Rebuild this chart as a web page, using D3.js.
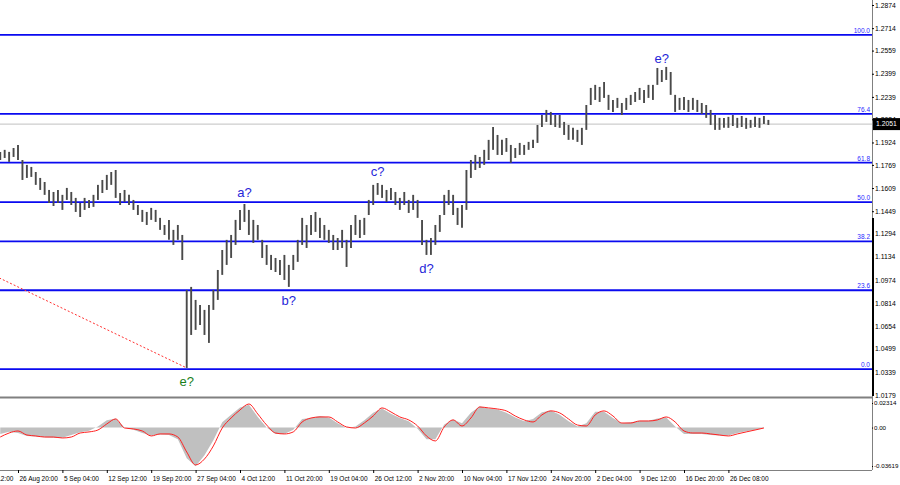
<!DOCTYPE html>
<html><head><meta charset="utf-8">
<script src="https://cdn.jsdelivr.net/npm/d3@7"></script>
<style>body{margin:0;background:#fff}svg{display:block}text{font-family:"Liberation Sans",Arial,sans-serif}</style>
</head><body><svg id="c" width="900" height="485"></svg>
<script>
// ---- price samples (each sample ~ 3 H4 bars), GBP/USD ----
const highs=[1.1859,1.1873,1.1859,1.1886,1.1907,1.1803,1.1769,1.1755,1.1720,1.1679,
1.1651,1.1596,1.1582,1.1596,1.1562,1.1610,1.1582,1.1541,1.1506,1.1541,
1.1527,1.1562,1.1631,1.1665,1.1700,1.1720,1.1734,1.1575,1.1596,1.1562,
1.1527,1.1492,1.1458,1.1444,1.1472,1.1458,1.1403,1.1354,1.1389,1.1320,
1.1354,1.1285,1.0905,1.0926,1.0836,1.0801,1.0767,1.0801,1.0905,1.1043,
1.1181,1.1251,1.1285,1.1389,1.1458,1.1499,1.1458,1.1389,1.1354,1.1251,
1.1216,1.1147,1.1126,1.1112,1.1147,1.1078,1.1147,1.1251,1.1403,1.1354,
1.1423,1.1444,1.1403,1.1354,1.1320,1.1285,1.1264,1.1320,1.1251,1.1354,
1.1423,1.1389,1.1403,1.1527,1.1631,1.1644,1.1631,1.1596,1.1610,1.1582,
1.1541,1.1582,1.1527,1.1562,1.1527,1.1389,1.1251,1.1264,1.1354,1.1423,
1.1562,1.1596,1.1562,1.1472,1.1492,1.1734,1.1803,1.1838,1.1824,1.1873,
1.1942,1.2031,1.1976,1.1942,1.1955,1.1907,1.1886,1.1921,1.1907,1.1928,
1.1942,1.2045,1.2114,1.2149,1.2135,1.2114,1.2114,1.2066,1.2045,1.2025,
1.2011,1.2025,1.2183,1.2301,1.2322,1.2308,1.2342,1.2253,1.2218,1.2232,
1.2197,1.2232,1.2253,1.2273,1.2301,1.2287,1.2322,1.2322,1.2439,1.2425,
1.2446,1.2411,1.2253,1.2232,1.2239,1.2218,1.2232,1.2218,1.2197,1.2183,
1.2149,1.2114,1.2094,1.2094,1.2101,1.2114,1.2094,1.2107,1.2094,1.2080,
1.2101,1.2094,1.2107,1.2080];
const lows=[1.1803,1.1817,1.1790,1.1824,1.1803,1.1665,1.1679,1.1686,1.1631,1.1596,
1.1562,1.1506,1.1485,1.1506,1.1458,1.1527,1.1492,1.1444,1.1409,1.1458,
1.1472,1.1479,1.1527,1.1575,1.1596,1.1631,1.1541,1.1492,1.1513,1.1492,
1.1458,1.1423,1.1375,1.1354,1.1389,1.1375,1.1320,1.1285,1.1251,1.1216,
1.1251,1.1112,1.0366,1.0594,1.0629,1.0663,1.0594,1.0539,1.0767,1.0836,
1.1009,1.1078,1.1126,1.1216,1.1320,1.1375,1.1285,1.1230,1.1251,1.1126,
1.1078,1.1043,1.1029,1.1009,1.0974,1.0926,1.1043,1.1099,1.1216,1.1195,
1.1285,1.1306,1.1264,1.1251,1.1230,1.1181,1.1181,1.1195,1.1064,1.1195,
1.1285,1.1264,1.1285,1.1423,1.1492,1.1562,1.1541,1.1513,1.1527,1.1492,
1.1458,1.1492,1.1437,1.1458,1.1403,1.1216,1.1147,1.1147,1.1216,1.1306,
1.1423,1.1492,1.1423,1.1354,1.1334,1.1458,1.1679,1.1734,1.1748,1.1769,
1.1803,1.1873,1.1838,1.1838,1.1859,1.1783,1.1817,1.1838,1.1838,1.1873,
1.1886,1.1921,1.2031,1.2066,1.2045,1.2031,1.2025,1.1976,1.1942,1.1942,
1.1928,1.1907,1.2011,1.2183,1.2218,1.2204,1.2232,1.2149,1.2135,1.2163,
1.2114,1.2149,1.2183,1.2204,1.2218,1.2197,1.2232,1.2218,1.2322,1.2342,
1.2356,1.2253,1.2135,1.2149,1.2149,1.2135,1.2149,1.2135,1.2121,1.2094,
1.2045,1.2011,1.2011,1.2025,1.2025,1.2038,1.2025,1.2031,1.2018,1.2025,
1.2031,1.2025,1.2052,1.2045];
// ---- MACD (one value every 2 samples) ----
const macdHist=[-0.0060,-0.0040,-0.0050,-0.0080,-0.0085,-0.0090,-0.0095,-0.0095,-0.0070,-0.0045,
-0.0030,0.0010,0.0070,0.0085,0.0000,-0.0020,-0.0050,-0.0075,-0.0065,-0.0070,
-0.0110,-0.0290,-0.0365,-0.0260,-0.0120,0.0050,0.0120,0.0190,0.0215,0.0100,
0.0000,-0.0060,-0.0060,-0.0020,0.0080,0.0090,0.0110,0.0095,0.0040,-0.0005,
0.0010,0.0070,0.0140,0.0180,0.0130,0.0090,0.0060,-0.0010,-0.0110,-0.0110,
0.0030,0.0075,0.0040,0.0140,0.0200,0.0180,0.0170,0.0140,0.0095,0.0060,
0.0080,0.0145,0.0160,0.0120,0.0060,0.0010,0.0040,0.0150,0.0150,0.0090,
0.0040,0.0050,0.0065,0.0065,0.0085,0.0095,0.0010,-0.0060,-0.0060,-0.0060,
-0.0070,-0.0075,-0.0075,-0.0050,-0.0035,-0.0020,-0.0005];
const macdSignal=[-0.0089,-0.0051,-0.0032,-0.0070,-0.0079,-0.0089,-0.0089,-0.0098,-0.0089,-0.0051,
-0.0041,-0.0023,0.0034,0.0081,-0.0004,-0.0013,-0.0032,-0.0079,-0.0060,-0.0060,
-0.0089,-0.0230,-0.0352,-0.0296,-0.0173,-0.0004,0.0090,0.0166,0.0222,0.0128,
0.0024,-0.0051,-0.0060,-0.0041,0.0053,0.0090,0.0100,0.0100,0.0053,0.0006,
-0.0004,0.0043,0.0109,0.0185,0.0147,0.0100,0.0072,0.0015,-0.0079,-0.0126,
0.0006,0.0072,0.0015,0.0090,0.0194,0.0185,0.0175,0.0157,0.0109,0.0072,
0.0053,0.0119,0.0157,0.0138,0.0081,0.0024,0.0015,0.0119,0.0157,0.0109,
0.0043,0.0043,0.0062,0.0062,0.0072,0.0100,0.0053,-0.0032,-0.0051,-0.0051,
-0.0060,-0.0070,-0.0079,-0.0060,-0.0041,-0.0023,-0.0004];
const priceTicks=[1.2874,1.2714,1.2559,1.2399,1.2239,1.2084,1.1924,1.1769,1.1609,1.1449,1.1294,1.1134,1.0974,1.0814,1.0654,1.0499,1.0339,1.0179];
const timeLabels=["19 Aug 12:00","26 Aug 20:00","5 Sep 04:00","12 Sep 12:00","19 Sep 20:00","27 Sep 04:00","4 Oct 12:00","11 Oct 20:00","19 Oct 04:00","26 Oct 12:00","2 Nov 20:00","10 Nov 04:00","17 Nov 12:00","24 Nov 20:00","2 Dec 04:00","9 Dec 12:00","16 Dec 20:00","26 Dec 08:00"];
const timeTickIdx=[-6,4,14,24,34,44,54,64,74,84,94,104,114,124,134,144,154,164];
const fibLevels=[0,23.6,38.2,50,61.8,76.4,100];
const fibLabels=["0.0","23.6","38.2","50.0","61.8","76.4","100.0"];
const fibLow=1.0358, fibHigh=1.2667;
const currentPrice=1.2051;
const waveLabels=["e?","a?","b?","c?","d?","e?"];
const waveIdx=[42,55,65,85,96,149];
const waveSide=["below","above","below","above","below","above"];
const waveColors=["#1b7f1b","#2626d9","#2626d9","#2626d9","#2626d9","#2626d9"];
const macdTicks=[0.02314,0,-0.03619];
const macdTickLabels=["0.02314","0.00","-0.03619"];
const trendIdx=[0,42], trendPrice=[1.0988,1.0366];

// ---- layout ----
const svg=d3.select("#c");
const axisX=872;
const x=d3.scaleLinear().domain([0,173]).range([0.24,0.24+173*4.44]);
const y=d3.scaleLinear().domain([1.0179,1.2874]).range([395,5]);
const ym=d3.scaleLinear().domain([-0.03619,0.02314]).range([466,403]);

svg.append("defs").append("clipPath").attr("id","cp").append("rect").attr("x",0).attr("y",0).attr("width",axisX).attr("height",397);
svg.select("defs").append("clipPath").attr("id","cpm").append("rect").attr("x",0).attr("y",399).attr("width",axisX).attr("height",71);

const main=svg.append("g").attr("clip-path","url(#cp)");
main.append("line").attr("x1",0).attr("x2",axisX).attr("y1",y(currentPrice)).attr("y2",y(currentPrice)).attr("stroke","#c0c0c0").attr("stroke-width",1);
fibLevels.forEach((lv,i)=>{
  const p=fibLow+(fibHigh-fibLow)*lv/100;
  main.append("line").attr("x1",0).attr("x2",axisX).attr("y1",y(p)).attr("y2",y(p)).attr("stroke","#0a0af0").attr("stroke-width",1.8);
  main.append("text").attr("x",870).attr("y",y(p)-2).attr("text-anchor","end").attr("font-size",6.5).attr("fill","#2a2aff").text(fibLabels[i]);
});
main.append("line").attr("x1",x(trendIdx[0])-1).attr("y1",y(trendPrice[0])).attr("x2",x(trendIdx[1])).attr("y2",y(trendPrice[1])).attr("stroke","#ff3030").attr("stroke-width",1).attr("stroke-dasharray","2,2");
main.append("g").selectAll("line").data(highs).join("line")
  .attr("x1",(d,i)=>x(i)).attr("x2",(d,i)=>x(i))
  .attr("y1",d=>y(d)).attr("y2",(d,i)=>y(lows[i]))
  .attr("stroke","#4a4a4a").attr("stroke-width",1.9);
waveLabels.forEach((t,k)=>{
  const i=waveIdx[k];
  const yy=waveSide[k]==="above"? y(highs[i])-12 : y(lows[i])+14;
  main.append("text").attr("x",x(i)).attr("y",yy).attr("dy","0.35em").attr("text-anchor","middle")
    .attr("font-size",13).attr("fill",waveColors[k]).text(t);
});

svg.append("line").attr("x1",0).attr("x2",axisX).attr("y1",397.5).attr("y2",397.5).attr("stroke","#808080").attr("stroke-width",2);
svg.append("line").attr("x1",0).attr("x2",axisX).attr("y1",470.5).attr("y2",470.5).attr("stroke","#808080").attr("stroke-width",1);
svg.append("line").attr("x1",axisX+0.5).attr("x2",axisX+0.5).attr("y1",0).attr("y2",470).attr("stroke","#808080").attr("stroke-width",1);
svg.append("line").attr("x1",axisX+1).attr("x2",axisX+1).attr("y1",218).attr("y2",396).attr("stroke","#000").attr("stroke-width",2);

const mg=svg.append("g").attr("clip-path","url(#cpm)");
mg.append("path").datum(macdHist).attr("fill","#c0c0c0")
  .attr("d",d3.area().x((d,j)=>x(j*2)).y0(ym(0)).y1(d=>ym(d)));
mg.append("path").datum(macdSignal).attr("fill","none").attr("stroke","#ff2020").attr("stroke-width",1)
  .attr("d",d3.line().x((d,j)=>x(j*2)).y(d=>ym(d)).curve(d3.curveMonotoneX));

const pa=svg.append("g").attr("transform",`translate(${axisX},0)`)
  .call(d3.axisRight(y).tickValues(priceTicks).tickSize(2).tickPadding(1).tickFormat(d3.format(".4f")));
pa.select(".domain").remove();
pa.selectAll("text").attr("font-size",6.8).attr("fill","#000").style("font-family","Liberation Sans, Arial");
pa.selectAll(".tick line").attr("stroke","#000");
svg.append("rect").attr("x",873).attr("y",y(currentPrice)-6).attr("width",27).attr("height",12).attr("fill","#000");
svg.append("text").attr("x",876).attr("y",y(currentPrice)).attr("dy","0.35em").attr("font-size",6.8).attr("fill","#fff").text("1.2051");
const ma=svg.append("g").attr("transform",`translate(${axisX},0)`)
  .call(d3.axisRight(ym).tickValues(macdTicks).tickSize(1).tickPadding(1).tickFormat((d,i)=>macdTickLabels[i]));
ma.select(".domain").remove();
ma.selectAll("text").attr("font-size",6.2).attr("fill","#000").style("font-family","Liberation Sans, Arial");

const ta=svg.append("g").attr("transform","translate(0,470)")
  .call(d3.axisBottom(x).tickValues(timeTickIdx).tickSize(3).tickPadding(3).tickFormat((d,i)=>timeLabels[i]));
ta.select(".domain").remove();
ta.selectAll("text").attr("text-anchor","start").attr("dx",1).attr("font-size",6.5).attr("fill","#000").style("font-family","Liberation Sans, Arial");
ta.selectAll(".tick line").attr("stroke","#000");
</script></body></html>
